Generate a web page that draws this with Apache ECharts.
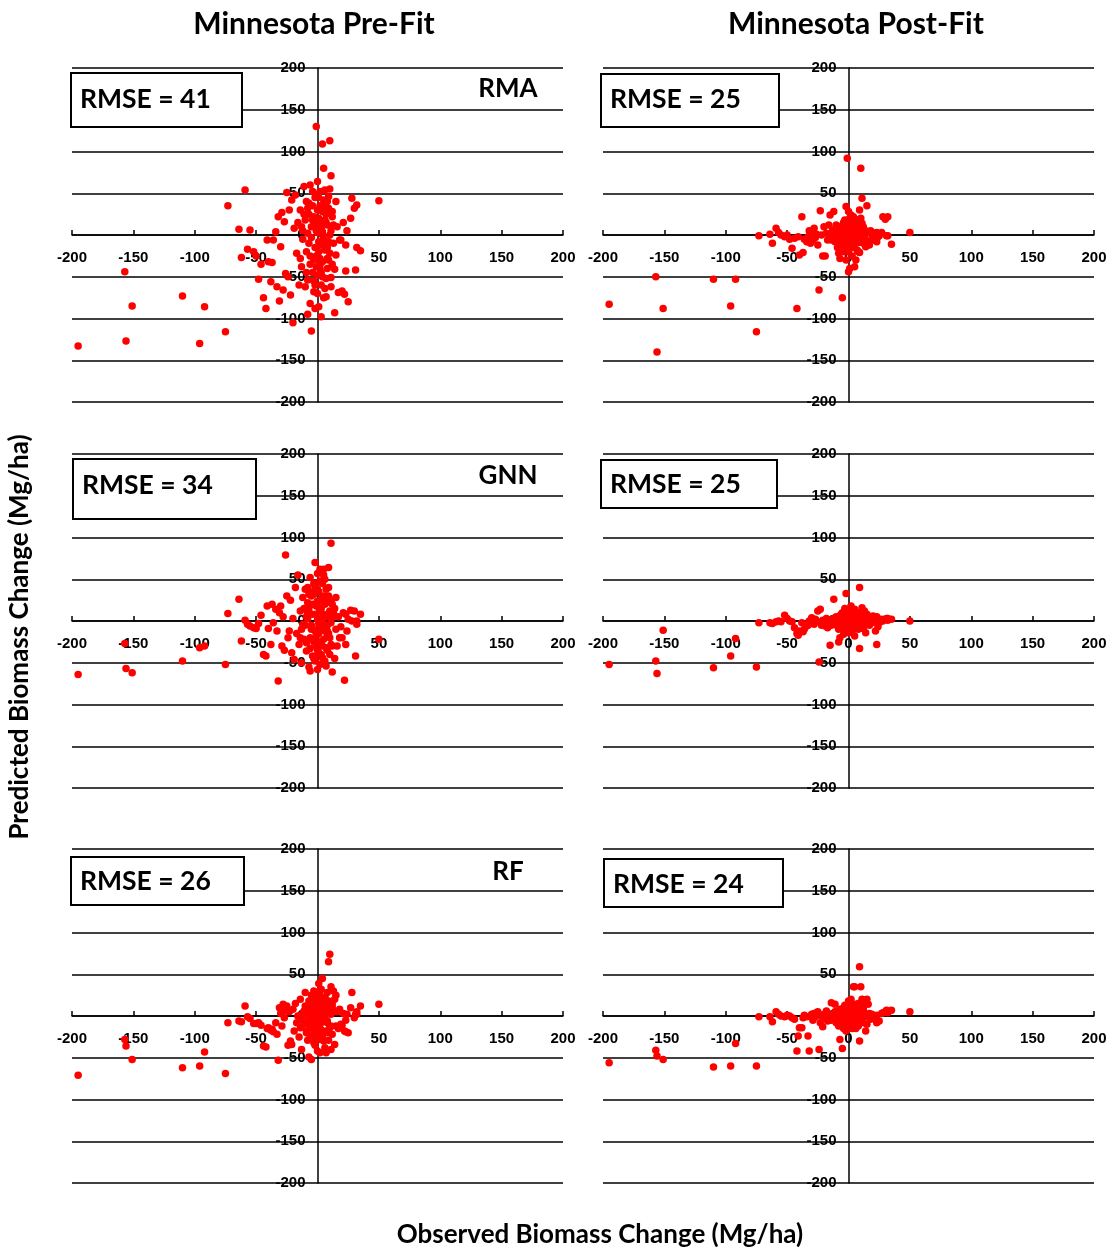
<!DOCTYPE html>
<html>
<head>
<meta charset="utf-8">
<script src="https://cdn.jsdelivr.net/npm/echarts@6/dist/echarts.min.js"></script>
<style>
html, body { margin: 0; padding: 0; background: #fff; }
#chart { width: 1110px; height: 1247px; }
</style>
</head>
<body>
<div id="chart"></div>
<script>
// observed biomass change (Mg/ha) - same plots in every panel
var observed = [
  -195, -157, -156, -151, -110, -96, -92, -75, -73, -64,
  -62, -59, -57, -55, -52, -50, -48, -46, -44, -42,
  -41, -40, -38, -37, -36, -34, -33, -32, -31, -30,
  -29, -28, -27, -26, -25, -24, -23, -22, -21, -20,
  -19, -18, -17, -16, -15, -14, -13, -12, -11, -10,
  -10, -9, -9, -8, -8, -7, -7, -6, -6, -5,
  -5, -4, -4, -3, -3, -2, -2, -1, -1, 0,
  0, 0, 1, 1, 1, 2, 2, 2, 3, 3,
  4, 4, 5, 5, 5, 6, 6, 7, 7, 8,
  8, 9, 9, 10, 10, 11, 11, 11, 12, 13,
  14, 14, 15, 15, 16, 17, 18, 19, 20, 21,
  22, 23, 23, 24, 25, 27, 28, 30, 31, 32,
  32, 35, 50, -12, -11, -9, -8, -7, -6, -5,
  -4, -3, -2, -2, -1, 0, 0, 1, 2, 2,
  3, 3, 4, 4, 5, 6, 6, 7, 8, 8,
  9, 10, 10, 11, 12, 12, 13, -13, -14, 5,
  -3, -1, 0, 1, 2, 3, 4, 5, 6, 7,
  -6, -4, -2, 0, 2, 4, 6, 8, -8, 9
];

// predicted biomass change (Mg/ha)
var rmaPre = [
  -133, -44, -127, -85, -73, -130, -86, -116, 35, 7,
  -27, 54, -17, 6, -20, -25, -53, -35, -75, -88,
  -6, -32, -56, -33, -6, 4, -62, 22, -79, -14,
  27, -66, 16, -46, 51, -50, 30, -72, 42, -105,
  8, 48, -22, 15, -60, 30, -38, 5, 58, -62,
  18, -20, 40, -95, -54, 25, -10, -82, 60, -115,
  10, -45, 35, -30, -68, 12, -88, 130, -25, 64,
  -48, 3, -86, 20, 45, -40, -12, 35, -60, 8,
  109, -32, 28, -75, -5, 54, -18, -74, 15, 40,
  -40, 46, -30, 113, 0, 71, -51, -62, 22, -10,
  -41, -93, 40, -24, 10, -69, -6, -6, -67, 15,
  -71, -12, -43, 5, -80, 20, 44, 32, -42, 36,
  -15, -19, 41, -5, 25, -45, 2, 38, -35, -3,
  18, -55, 45, -15, 5, 30, -70, -8, 52, -28,
  15, -98, 4, -50, 42, -8, -64, 25, 12, -15,
  32, -22, 55, 5, -35, 28, 12, 10, -28, 80,
  22, -38, 48, -20, 10, -45, 28, -12, 36, -52,
  -25, 52, -60, 15, -35, 0, 18, -28, 32, -8
];
var rmaPost = [
  -83, -50, -140, -88, -53, -85, -53, -116, -1, 1,
  -10, 8, 3, 0, -2, 0, -5, -16, -4, -88,
  -2, -24, 22, -21, -5, -8, -2, 5, -10, 3,
  -6, 8, -3, 1, -12, -66, 29, 0, -25, 10,
  -25, 2, -6, 12, 24, -4, 6, 28, -8, 0,
  12, -15, 4, -22, -6, 9, -28, 2, -12, -75,
  5, -20, 14, -3, 18, 34, -30, 92, -8, 28,
  -44, 1, -40, 10, 20, -5, 8, 15, -15, 3,
  22, -2, 6, -38, 12, 4, -10, 18, -3, 8,
  -20, 30, -21, 80, 2, 44, 14, -6, 10, -2,
  -14, 5, 35, -8, 3, -12, 5, -4, 2, -6,
  0, -8, 3, -2, -1, 3, 22, 19, -1, 22,
  -1, -11, 3, -4, 6, -9, 3, 7, -12, 1,
  8, -16, 12, -4, 6, 14, -20, -2, 24, -9,
  6, -25, 1, -12, 18, -3, -30, 10, 4, -6,
  13, -5, 20, 3, -10, 9, 2, 2, -6, 9,
  10, -12, 16, -6, 4, -14, 11, -4, 14, -18,
  -7, 15, -20, 5, -11, 0, 7, -9, 10, -3
];
var gnnPre = [
  -64, -27, -57, -62, -48, -32, -30, -52, 9, 26,
  -24, 1, -4, -6, -8, -9, -3, 7, -40, -42,
  18, -9, -28, 20, -2, 14, -12, -72, 10, 18,
  -30, 5, -35, 79, 30, -20, -12, 25, -38, 3,
  -46, 40, -15, 55, -28, 12, -50, 28, -22, 38,
  -5, 5, -36, 40, 22, -55, 15, 52, -60, -10,
  30, -42, 8, 45, -25, 70, -48, 18, -18, 57,
  -58, 2, 35, -8, -38, 12, -52, 62, -3, 25,
  -30, 45, 62, -22, 8, -12, 20, -54, 38, -5,
  -35, 64, -15, 10, -40, 93, 25, -28, -61, 5,
  -45, 15, -10, 28, -30, 5, -20, -7, -20, 10,
  -71, 8, -28, -12, 2, 13, 0, 12, -42, -4,
  0, 8, -22, -4, 15, -26, 3, 32, -33, -5,
  20, -45, 42, -12, 8, 24, -35, -3, 48, -25,
  15, -10, 3, -44, 30, -6, -48, 22, 5, -18,
  40, -20, 12, -2, -30, 20, 10, -10, -20, 55,
  32, -30, 38, -15, 12, -40, 28, -8, 50, -32,
  -20, 35, -45, 18, -28, 0, 26, -12, 10, 30
];
var gnnPost = [
  -52, -48, -63, -11, -56, -42, -21, -55, -2, -2,
  -3, -1, 0, -1, 7, 3, 0, -1, -8, -15,
  -17, -12, -2, -13, -10, -6, -5, 0, -3, 4,
  -2, -4, 2, 0, 12, -49, 14, -5, 1, -2,
  -6, 3, -8, 0, -29, -3, 2, 26, -2, 5,
  -1, -6, 3, -25, -10, 1, -20, 8, -4, 0,
  10, -16, 3, -3, 15, 33, -12, 5, -7, 12,
  -9, 0, 8, 2, -5, 6, -2, 18, -12, 3,
  10, -1, 14, -18, 4, 1, -6, 7, 0, 9,
  -10, 40, -33, 6, -3, 16, 2, -8, 4, 12,
  -14, 3, -4, 8, 0, -5, 3, -2, 6, -1,
  -12, -28, 5, -7, -2, 2, 0, 2, 3, 3,
  1, 2, 0, 0, 4, -4, 2, 6, -9, -2,
  5, -6, 4, -4, 3, 8, -14, -1, 13, -7,
  5, -4, 2, -9, 12, -3, -6, 8, 2, -5,
  10, -6, 5, 1, -9, 7, 3, 1, -5, 7,
  6, -5, 8, -3, 2, -7, 5, -2, 9, -6,
  -4, 7, -9, 3, -5, 0, 4, -3, 2, 6
];
var rfPre = [
  -71, -28, -36, -52, -62, -60, -43, -69, -8, -6,
  -7, 12, -1, -3, -9, -9, -8, -11, -36, -37,
  -15, -14, -17, -16, -19, -8, -22, -53, 10, 3,
  -12, 14, -2, 6, 12, -35, 5, -30, -34, 8,
  -18, 15, -8, 0, -25, 20, -40, 3, -10, 28,
  12, -6, -20, -29, 2, -49, 18, -8, 5, -52,
  25, -15, 8, 30, -22, 10, -35, 16, -12, 20,
  -42, 0, 39, 5, -28, 25, -44, 12, -5, 32,
  -18, 45, 2, -30, 15, -5, 22, -44, 8, 28,
  -20, 65, -29, 74, 3, 35, -12, -40, 10, 30,
  -34, 20, 25, -12, 5, -15, 8, -10, -11, 3,
  -18, -19, -5, 2, -20, 10, 28, -2, 2, 5,
  2, 12, 14, -5, 6, -18, 10, 5, -24, -2,
  14, -32, 22, -6, 4, 18, -22, -3, 30, -16,
  8, -8, 1, -26, 20, -2, -38, 12, 4, -8,
  18, -14, 8, 2, -22, 14, 6, -2, -14, 2,
  18, -20, 26, -10, 6, -25, 15, -5, 22, -18,
  -14, 20, -28, 9, -15, 0, 12, -6, 5, 16
];
var rfPost = [
  -56, -41, -48, -52, -61, -60, -33, -60, -1, -1,
  -7, 5, 2, 0, -1, 1, 0, -2, -4, -42,
  -24, -14, -14, -2, 1, -1, -24, -42, 0, 2,
  -5, 3, -1, 4, 5, -40, -8, 0, -13, 2,
  -2, 6, -6, -3, 2, 16, 0, -4, 14, -8,
  5, -2, 4, -12, 0, 7, -28, 3, -9, -39,
  6, -15, 10, -2, 13, 4, -18, 8, -5, 18,
  -10, 0, 12, 3, -6, 9, -4, 20, -15, 5,
  35, -2, 35, -8, 10, 3, -6, 12, 0, 15,
  -12, 59, -30, 35, 2, 12, 20, -5, 8, -1,
  -18, 17, 20, -10, 14, 3, -4, 2, 0, -3,
  -2, -8, 1, -6, -6, 3, 4, 5, 7, 5,
  4, 7, 5, -3, 5, -6, 1, 8, -9, 0,
  7, -12, 9, -4, 3, 10, -9, -2, 15, -7,
  6, -3, 1, -10, 14, -2, -15, 9, 2, -4,
  11, -7, 6, 2, -8, 8, 3, 1, -5, 6,
  6, -5, 9, -3, 2, -7, 5, -2, 8, -6,
  -4, 7, -8, 3, -5, 0, 4, -3, 2, 6
];

var columnTitles = ['Minnesota Pre-Fit', 'Minnesota Post-Fit'];
var modelNames = ['RMA', 'GNN', 'RF'];
var rmseValues = [41, 25, 34, 25, 26, 24];

// panels in reading order: row by row, pre-fit left, post-fit right
var panelSeries = [rmaPre, rmaPost, gnnPre, gnnPost, rfPre, rfPost];
var colLeft = [72, 603];
var rowTop = [68, 454, 849];
var gridW = 491, gridH = 334;
var boxes = [
  [71, 73, 171, 54], [601, 74, 178, 53],
  [73, 459, 183, 60], [601, 460, 176, 48],
  [71, 857, 173, 48], [604, 859, 179, 48]
];
var rmseTextY = [99, 99, 485, 484, 881, 884];

var tickFont = { fontFamily: 'Liberation Sans', fontWeight: 'bold', fontSize: 15, color: '#000' };
var blackLine = { color: '#000', width: 1.5 };
var headFont = "'Lato', 'Open Sans', sans-serif";

var grids = [], xAxes = [], yAxes = [], series = [], graphics = [];

panelSeries.forEach(function (pred, i) {
  var row = Math.floor(i / 2), col = i % 2;
  grids.push({ left: colLeft[col], top: rowTop[row], width: gridW, height: gridH, containLabel: false, outerBoundsMode: 'none' });
  // axes cross in the middle of each panel (value 0)
  xAxes.push({
    gridIndex: i, type: 'value', min: -200, max: 200, interval: 50,
    position: 'bottom', offset: -gridH / 2,
    axisLine: { show: true, onZero: false, lineStyle: blackLine },
    axisTick: { show: true, inside: true, length: 5, lineStyle: blackLine },
    axisLabel: Object.assign({ margin: 15, hideOverlap: false }, tickFont),
    splitLine: { show: false }
  });
  yAxes.push({
    gridIndex: i, type: 'value', min: -200, max: 200, interval: 50,
    position: 'left', offset: -gridW / 2,
    axisLine: { show: true, onZero: false, lineStyle: blackLine },
    axisTick: { show: false },
    axisLabel: Object.assign({ margin: 12, hideOverlap: false }, tickFont),
    splitLine: { show: true, lineStyle: blackLine }
  });
  series.push({
    type: 'scatter', xAxisIndex: i, yAxisIndex: i,
    symbolSize: 7.5,
    itemStyle: { color: '#ff0000', opacity: 1 },
    data: observed.map(function (x, k) { return [x, pred[k]]; })
  });
  var b = boxes[i];
  graphics.push({
    type: 'rect', z: 100,
    shape: { x: b[0], y: b[1], width: b[2], height: b[3] },
    style: { fill: '#fff', stroke: '#000', lineWidth: 2 }
  });
  graphics.push({
    type: 'text', z: 101, x: b[0] + 9, y: rmseTextY[i],
    style: {
      text: 'RMSE = ' + rmseValues[i],
      font: 'bold 26.5px ' + headFont, fill: '#000',
      align: 'left', verticalAlign: 'middle'
    }
  });
});

modelNames.forEach(function (name, r) {
  graphics.push({
    type: 'text', z: 101, x: 508, y: [89, 476, 872][r],
    style: { text: name, font: 'bold 26px ' + headFont, fill: '#000', align: 'center', verticalAlign: 'middle' }
  });
});

columnTitles.forEach(function (t, c) {
  graphics.push({
    type: 'text', z: 101, x: [314, 856][c], y: 24,
    style: { text: t, font: 'bold 30px ' + headFont, fill: '#000', align: 'center', verticalAlign: 'middle' }
  });
});

graphics.push({
  type: 'text', z: 101, x: 20, y: 637, rotation: Math.PI / 2,
  style: { text: 'Predicted Biomass Change (Mg/ha)', font: 'bold 26px ' + headFont, fill: '#000', align: 'center', verticalAlign: 'middle' }
});
graphics.push({
  type: 'text', z: 101, x: 600, y: 1235,
  style: { text: 'Observed Biomass Change (Mg/ha)', font: 'bold 26px ' + headFont, fill: '#000', align: 'center', verticalAlign: 'middle' }
});

var chart = echarts.init(document.getElementById('chart'));
chart.setOption({
  backgroundColor: '#fff',
  animation: false,
  grid: grids,
  xAxis: xAxes,
  yAxis: yAxes,
  series: series,
  graphic: graphics
});
</script>
</body>
</html>
